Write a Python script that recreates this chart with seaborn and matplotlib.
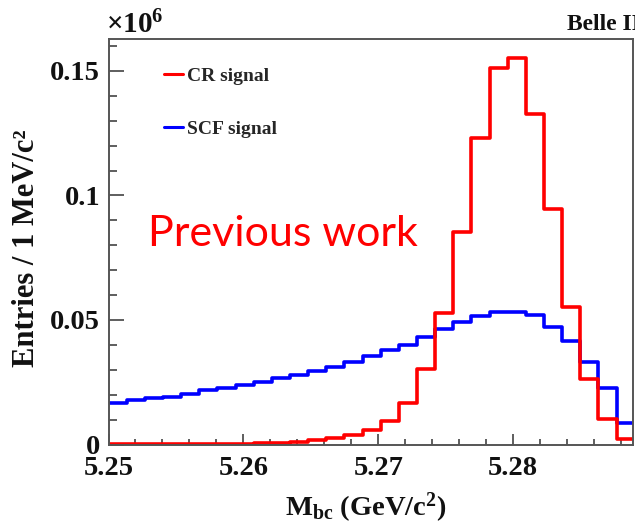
import numpy as np
import pandas as pd
import matplotlib
matplotlib.use("Agg")
import matplotlib.pyplot as plt
import seaborn as sns
from matplotlib.lines import Line2D
from matplotlib.ticker import MultipleLocator, FuncFormatter

# Histogram binning of M_bc (GeV/c^2)
mbc_low = 5.25
mbc_high = 5.289
n_bins = 29

# Entries per bin, in units of 10^6
cr_signal = [0.0001, 0.0001, 0.0001, 0.0002, 0.0002, 0.0003, 0.0004, 0.0004,
             0.0006, 0.0008, 0.0012, 0.0018, 0.0026, 0.0038, 0.0058, 0.0096,
             0.0166, 0.0303, 0.0527, 0.0855, 0.1230, 0.1511, 0.1553, 0.1327,
             0.0945, 0.0553, 0.0263, 0.0102, 0.0021]
scf_signal = [0.0166, 0.0179, 0.0186, 0.0192, 0.0203, 0.0219, 0.0226, 0.0239,
              0.0252, 0.0266, 0.0279, 0.0295, 0.0312, 0.0331, 0.0354, 0.0380,
              0.0400, 0.0433, 0.0463, 0.0491, 0.0516, 0.0533, 0.0533, 0.0520,
              0.0473, 0.0417, 0.0333, 0.0226, 0.0085]
series_labels = ["CR signal", "SCF signal"]
x_ticks = [5.25, 5.26, 5.27, 5.28]
y_ticks = [0, 0.05, 0.1, 0.15]

sns.set_theme(style="ticks")
plt.rcParams["font.family"] = ["Liberation Serif", "DejaVu Serif"]
plt.rcParams["mathtext.fontset"] = "custom"
plt.rcParams["mathtext.rm"] = "Liberation Serif:bold"
plt.rcParams["mathtext.it"] = "Liberation Serif:bold"
plt.rcParams["mathtext.bf"] = "Liberation Serif:bold"

W, H = 635, 527
fig = plt.figure(figsize=(W / 100, H / 100), dpi=100)
ax = fig.add_axes([108.5 / W, 1 - 444.5 / H, (633.3 - 108.5) / W, (444.5 - 39) / H])

edges = np.linspace(mbc_low, mbc_high, n_bins + 1)
centers = 0.5 * (edges[:-1] + edges[1:])
df = pd.DataFrame({"mbc": centers, "cr": cr_signal, "scf": scf_signal})
bin_list = edges.tolist()

lw = 2.6
sns.histplot(data=df, x="mbc", weights="scf", bins=bin_list, element="step",
             fill=False, color="#0000ff", linewidth=lw, ax=ax)
sns.histplot(data=df, x="mbc", weights="cr", bins=bin_list, element="step",
             fill=False, color="#ff0000", linewidth=lw, ax=ax)

ax.set_xlim(mbc_low, 5.2889)
ax.set_ylim(0, 0.1628)

ax.set_xticks(x_ticks)
ax.set_yticks(y_ticks)
ax.xaxis.set_minor_locator(MultipleLocator(0.002))
ax.yaxis.set_minor_locator(MultipleLocator(0.01))
fmt = FuncFormatter(lambda v, p: f"{v:g}")
ax.xaxis.set_major_formatter(fmt)
ax.yaxis.set_major_formatter(fmt)

frame_col = "#555555"
for s in ax.spines.values():
    s.set_color(frame_col)
    s.set_linewidth(1.4)
ax.tick_params(axis="both", which="both", direction="in", color="#333333",
               top=False, right=False, width=1.1)
ax.tick_params(axis="y", which="major", length=11, pad=6)
ax.tick_params(axis="y", which="minor", length=6)
ax.tick_params(axis="x", which="major", length=8, pad=8.5)
ax.tick_params(axis="x", which="minor", length=4)
for lab in ax.get_xticklabels() + ax.get_yticklabels():
    lab.set_fontsize(20.5)
    lab.set_fontweight("bold")
    lab.set_color("#111111")

ax.set_xlabel(r"$\mathrm{M}_{\mathrm{bc}}$ (GeV/c$^{2}$)", fontsize=20.5,
              fontweight="bold", color="#111111")
ax.set_ylabel("Entries / 1 MeV/c²", fontsize=22, fontweight="bold",
              color="#111111")
ax.xaxis.set_label_coords(0.49, -0.115)
ax.yaxis.set_label_coords(-0.128, 0.485)

handles = [Line2D([], [], color="#ff0000", lw=2.2),
           Line2D([], [], color="#0000ff", lw=2.2)]
ax.legend(handles, series_labels, loc="upper left",
          bbox_to_anchor=(164 / W, 1 - 67 / H), bbox_transform=fig.transFigure,
          frameon=False, borderpad=0, borderaxespad=0, handlelength=1.0,
          handletextpad=0.2, labelspacing=1.85,
          prop={"family": "Liberation Serif", "weight": "bold", "size": 14})

ax.text(0.075, 0.52, "Previous work", transform=ax.transAxes, color="#ff0000",
        fontsize=31, family="Lato", va="center", ha="left")

fig.text(106 / W, 1 - 33 / H, r"$\times$10$^{6}$", fontsize=21,
         fontweight="bold", color="#111111", ha="left", va="baseline")
fig.text(567 / W, 1 - 30 / H, "Belle II", fontsize=17, fontweight="bold",
         color="#111111", ha="left", va="baseline")

fig.savefig("out.png", dpi=100, facecolor="white")
